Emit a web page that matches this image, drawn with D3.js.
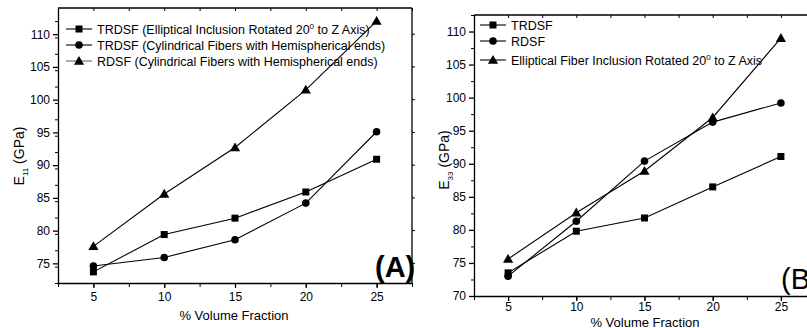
<!DOCTYPE html>
<html>
<head>
<meta charset="utf-8">
<script src="https://cdn.jsdelivr.net/npm/d3@7"></script>
<style>
  body { margin: 0; background: #fff; }
  svg { display: block; font-family: "Liberation Sans", Arial, sans-serif; }
</style>
</head>
<body>
<svg id="chart" width="807" height="328"></svg>
<script>
// volume fractions (x) shared by both panels
const fractions = [5, 10, 15, 20, 25];
const xTicks = [5, 10, 15, 20, 25];

// panel A: E11 (GPa)
const aEllipticalTRDSF = [73.7, 79.4, 81.9, 85.9, 90.9];
const aCylindricalTRDSF = [74.6, 75.9, 78.6, 84.2, 95.1];
const aCylindricalRDSF = [77.6, 85.6, 92.7, 101.5, 112.0];
const aYTicks = [75, 80, 85, 90, 95, 100, 105, 110];

// panel B: E33 (GPa)
const bTRDSF = [73.5, 79.8, 81.8, 86.5, 91.1];
const bRDSF = [73.0, 81.3, 90.4, 96.3, 99.2];
const bElliptical = [75.6, 82.6, 88.9, 97.0, 109.0];
const bYTicks = [70, 75, 80, 85, 90, 95, 100, 105, 110];

const svg = d3.select('#chart');

const marker = (g, type, cx, cy) => {
  if (type === 'square') {
    g.append('rect').attr('x', cx - 3.5).attr('y', cy - 3.5)
      .attr('width', 7).attr('height', 7).attr('fill', '#000');
  } else if (type === 'circle') {
    g.append('circle').attr('cx', cx).attr('cy', cy).attr('r', 3.8).attr('fill', '#000');
  } else {
    g.append('path')
      .attr('d', d3.symbol(d3.symbolTriangle, 45)())
      .attr('transform', `translate(${cx},${cy + 0.8})`)
      .attr('fill', '#000');
  }
};

function makePanel(p) {
  const g = svg.append('g');
  const x = d3.scaleLinear().domain([2.5, 27.5]).range([p.left, p.right]);
  const y = d3.scaleLinear().domain(p.yDomain).range([p.bottom, p.top]);

  // minor ticks
  const xMinor = d3.range(2.5, 27.6, 2.5);
  const yMinor = d3.range(p.yDomain[0], p.yDomain[1] + 0.01, 2.5)
    .filter((v) => v % 5 !== 0);

  g.append('g').attr('transform', `translate(0,${p.bottom})`)
    .call(d3.axisBottom(x).tickValues(xMinor).tickSize(4).tickFormat(''))
    .call((a) => a.select('.domain').remove());
  g.append('g').attr('transform', `translate(${p.left},0)`)
    .call(d3.axisLeft(y).tickValues(yMinor).tickSize(3).tickFormat(''))
    .call((a) => a.select('.domain').remove());
  // top mirror ticks (inward)
  g.append('g').attr('transform', `translate(0,${p.top})`)
    .call(d3.axisBottom(x).tickValues(xMinor).tickSize(3).tickFormat(''))
    .call((a) => a.select('.domain').remove());

  const xAxis = g.append('g').attr('transform', `translate(0,${p.bottom})`)
    .call(d3.axisBottom(x).tickValues(xTicks).tickSize(5).tickSizeOuter(0).tickPadding(p.xPad));
  const yAxis = g.append('g').attr('transform', `translate(${p.left},0)`)
    .call(d3.axisLeft(y).tickValues(p.yTicks).tickSize(5).tickSizeOuter(0).tickPadding(3));
  [xAxis, yAxis].forEach((a) => {
    a.selectAll('text').style('font-size', '12px').attr('fill', '#000');
    a.selectAll('line, path').attr('stroke', '#000').attr('stroke-width', 1.3);
  });
  g.selectAll('.tick line').attr('stroke', '#000');

  // frame top/right
  g.append('line').attr('x1', p.left).attr('x2', p.right)
    .attr('y1', p.top).attr('y2', p.top).attr('stroke', '#000').attr('stroke-width', 1.3);
  g.append('line').attr('x1', p.right).attr('x2', p.right)
    .attr('y1', p.top).attr('y2', p.bottom).attr('stroke', '#000').attr('stroke-width', 1.3);
  if (p.rightTicks) {
    p.yTicks.forEach((v) => {
      g.append('line').attr('x1', p.right).attr('x2', p.right + 3)
        .attr('y1', y(v)).attr('y2', y(v)).attr('stroke', '#000');
    });
  }

  // series
  const line = d3.line().x((d) => x(d[0])).y((d) => y(d[1]));
  p.series.forEach((s) => {
    const pts = fractions.map((f, i) => [f, s.values[i]]);
    g.append('path').datum(pts).attr('d', line)
      .attr('fill', 'none').attr('stroke', '#000').attr('stroke-width', 1.1);
    pts.forEach((d) => marker(g, s.marker, x(d[0]), y(d[1])));
  });

  // legend
  p.series.forEach((s, i) => {
    const ly = p.legend.y[i];
    g.append('line').attr('x1', p.legend.x).attr('x2', p.legend.x + 26)
      .attr('y1', ly).attr('y2', ly).attr('stroke', s.legendStroke || '#000').attr('stroke-width', 1.1);
    marker(g, s.marker, p.legend.x + 13, ly);
    const t = g.append('text').attr('x', p.legend.x + 31).attr('y', ly + 4.5)
      .style('font-size', p.legend.size).attr('fill', '#000');
    if (s.sup) {
      t.append('tspan').text(s.label[0]);
      t.append('tspan').text('0').attr('dy', -5).style('font-size', '8px');
      t.append('tspan').text(s.label[1]).attr('dy', 5);
    } else {
      t.text(s.label);
    }
  });

  // axis titles
  g.append('text').attr('x', p.xTitleX)
    .attr('y', p.xTitleY).attr('text-anchor', 'middle')
    .style('font-size', '13px').text('% Volume Fraction');
  const yt = g.append('text')
    .attr('transform', `translate(${p.yTitleX},${p.yTitleY}) rotate(-90)`)
    .attr('text-anchor', 'middle').style('font-size', '14px');
  yt.append('tspan').text('E');
  yt.append('tspan').text(p.sub).attr('dy', 4).style('font-size', '8px');
  yt.append('tspan').text(' (GPa)').attr('dy', -4);

  g.append('text').attr('x', p.tag.x).attr('y', p.tag.y)
    .style('font-size', '29px').style('font-weight', p.tag.bold ? 'bold' : 'normal')
    .text(p.tag.text);
}

makePanel({
  left: 58, right: 412, top: 8, bottom: 283,
  yDomain: [72, 114], yTicks: aYTicks, rightTicks: true, xPad: 4,
  series: [
    { values: aEllipticalTRDSF, marker: 'square', sup: true,
      label: ['TRDSF (Elliptical Inclusion Rotated 20', ' to Z Axis)'] },
    { values: aCylindricalTRDSF, marker: 'circle',
      label: 'TRDSF (Cylindrical Fibers with Hemispherical ends)' },
    { values: aCylindricalRDSF, marker: 'triangle', legendStroke: '#666',
      label: 'RDSF (Cylindrical Fibers with Hemispherical ends)' },
  ],
  legend: { x: 66, y: [29, 45, 61], size: '12.5px' },
  xTitleX: 234, xTitleY: 320, yTitleX: 24, yTitleY: 156, sub: '11',
  tag: { x: 375, y: 277, text: '(A)', bold: true },
});

makePanel({
  left: 474, right: 815, top: 15, bottom: 296,
  yDomain: [70, 112.5], yTicks: bYTicks, rightTicks: false, xPad: 1,
  series: [
    { values: bTRDSF, marker: 'square', label: 'TRDSF' },
    { values: bRDSF, marker: 'circle', label: 'RDSF' },
    { values: bElliptical, marker: 'triangle', sup: true,
      label: ['Elliptical Fiber Inclusion Rotated 20', ' to Z Axis'] },
  ],
  legend: { x: 480, y: [25, 41, 60], size: '12.5px' },
  xTitleX: 645, xTitleY: 326.5, yTitleX: 449, yTitleY: 160, sub: '33',
  tag: { x: 781, y: 289, text: '(B', bold: false },
});
</script>
</body>
</html>
